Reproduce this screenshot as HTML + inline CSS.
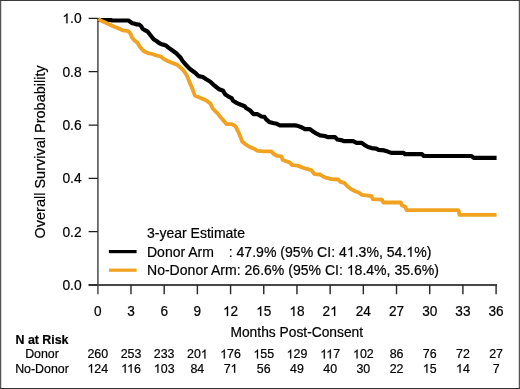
<!DOCTYPE html>
<html><head><meta charset="utf-8"><style>
html,body{margin:0;padding:0;background:#fff;}
svg{display:block;will-change:transform;}
text{font-family:"Liberation Sans",sans-serif;fill:#000;stroke:#000;stroke-width:0.2px;}
.h{fill-opacity:0;stroke-opacity:0;}
.one{fill:#000;stroke:#000;stroke-width:0.2px;vector-effect:non-scaling-stroke;}
</style></head><body>
<svg width="520" height="389" viewBox="0 0 520 389">
<rect width="520" height="389" fill="#fff"/>
<rect x="1" y="1" width="1" height="387" fill="#d6d6d6"/><rect x="518" y="1" width="1" height="387" fill="#d6d6d6"/>
<rect x="0" y="0" width="1" height="389" fill="#555"/><rect x="519" y="0" width="1" height="389" fill="#555"/>
<rect x="0" y="0" width="520" height="1" fill="#3a3a3a"/><rect x="0" y="388" width="520" height="1" fill="#333"/>
<path d="M97.90,18.40 V294.2" stroke="#686868" stroke-width="1.8" fill="none"/>
<path d="M88.6,285.00 H497.0" stroke="#464646" stroke-width="1.8" fill="none"/>
<path d="M88.6,18.40 H97.80 M88.6,71.72 H97.80 M88.6,125.04 H97.80 M88.6,178.36 H97.80 M88.6,231.68 H97.80 M88.6,285.00 H97.80" stroke="#1e1e1e" stroke-width="1.2" fill="none"/>
<path d="M130.99,285.00 V294.2 M164.18,285.00 V294.2 M197.38,285.00 V294.2 M230.57,285.00 V294.2 M263.76,285.00 V294.2 M296.95,285.00 V294.2 M330.14,285.00 V294.2 M363.34,285.00 V294.2 M396.53,285.00 V294.2 M429.72,285.00 V294.2 M462.91,285.00 V294.2 M496.10,285.00 V294.2" stroke="#262626" stroke-width="1.4" fill="none"/>
<text x="81.60" y="23.30" text-anchor="end" font-size="13.8"><tspan class="h">1</tspan>.0</text>
<text x="81.60" y="76.62" text-anchor="end" font-size="13.8">0.8</text>
<text x="81.60" y="129.94" text-anchor="end" font-size="13.8">0.6</text>
<text x="81.60" y="183.26" text-anchor="end" font-size="13.8">0.4</text>
<text x="81.60" y="236.58" text-anchor="end" font-size="13.8">0.2</text>
<text x="81.60" y="289.90" text-anchor="end" font-size="13.8">0.0</text>
<text transform="translate(97.80,316.00) scale(1.0,1.06)" text-anchor="middle" font-size="13.6">0</text>
<text transform="translate(130.99,316.00) scale(1.0,1.06)" text-anchor="middle" font-size="13.6">3</text>
<text transform="translate(164.18,316.00) scale(1.0,1.06)" text-anchor="middle" font-size="13.6">6</text>
<text transform="translate(197.38,316.00) scale(1.0,1.06)" text-anchor="middle" font-size="13.6">9</text>
<text transform="translate(230.57,316.00) scale(1.0,1.06)" text-anchor="middle" font-size="13.6"><tspan class="h">1</tspan>2</text>
<text transform="translate(263.76,316.00) scale(1.0,1.06)" text-anchor="middle" font-size="13.6"><tspan class="h">1</tspan>5</text>
<text transform="translate(296.95,316.00) scale(1.0,1.06)" text-anchor="middle" font-size="13.6"><tspan class="h">1</tspan>8</text>
<text transform="translate(330.14,316.00) scale(1.0,1.06)" text-anchor="middle" font-size="13.6">2<tspan class="h">1</tspan></text>
<text transform="translate(363.34,316.00) scale(1.0,1.06)" text-anchor="middle" font-size="13.6">24</text>
<text transform="translate(396.53,316.00) scale(1.0,1.06)" text-anchor="middle" font-size="13.6">27</text>
<text transform="translate(429.72,316.00) scale(1.0,1.06)" text-anchor="middle" font-size="13.6">30</text>
<text transform="translate(462.91,316.00) scale(1.0,1.06)" text-anchor="middle" font-size="13.6">33</text>
<text transform="translate(496.10,316.00) scale(1.0,1.06)" text-anchor="middle" font-size="13.6">36</text>
<text x="296.80" y="336.80" text-anchor="middle" font-size="13.8">Months Post-Consent</text>
<text transform="translate(45.4,151.9) rotate(-90) scale(1.0,1)" text-anchor="middle" font-size="14.5">Overall Survival Probability</text>
<polyline points="97.8,20.0 110.9,20.0 112.0,20.5 128.4,20.5 130.2,21.8 132.2,23.2 134.0,23.5 136.8,24.4 139.4,24.7 141.2,26.3 142.8,29.0 144.5,30.0 147.4,31.3 150.5,35.3 152.8,38.2 154.0,39.4 156.5,41.0 159.1,43.0 161.5,44.2 164.3,44.9 166.0,45.5 168.4,47.6 171.1,49.5 176.3,53.3 180.4,57.4 182.6,61.0 185.1,63.9 187.5,66.5 190.3,69.2 195.4,73.0 198.5,76.1 202.8,77.0 206.2,79.3 210.0,81.5 214.6,85.8 219.2,89.2 223.1,90.8 225.4,94.6 228.5,96.6 231.6,98.1 233.1,100.8 237.0,103.1 240.8,104.7 244.7,106.2 246.0,108.0 249.9,110.3 253.7,114.2 257.6,114.2 261.4,116.5 264.5,116.9 266.0,119.2 269.1,121.9 273.0,123.0 276.8,123.8 279.9,125.3 294.6,125.3 296.9,125.6 301.6,127.3 305.0,129.1 309.7,129.1 313.1,131.4 316.6,133.7 320.1,135.4 324.7,136.0 328.2,137.2 335.1,137.2 337.4,139.5 340.9,140.1 344.3,141.2 353.1,141.2 356.6,142.9 361.8,142.9 364.7,145.2 368.1,147.0 371.6,148.1 376.2,148.7 378.5,149.9 384.3,150.4 387.8,151.6 391.2,152.9 403.6,152.9 405.0,154.2 422.0,154.2 423.8,156.0 471.5,156.0 473.8,157.9 496.6,157.9" fill="none" stroke="#000" stroke-width="4.2" stroke-linejoin="round"/>
<polyline points="98.2,18.8 100.6,20.4 105.3,22.5 109.9,24.7 114.5,26.8 119.1,28.6 123.0,30.4 128.2,31.1 130.5,33.7 132.0,37.6 134.3,40.3 137.4,42.6 139.7,46.5 141.5,48.8 143.1,50.5 145.5,52.0 148.3,53.1 152.0,54.0 157.1,55.6 160.7,56.5 163.3,58.6 166.0,60.2 171.1,62.5 175.5,64.1 177.5,65.0 180.4,67.5 182.9,69.7 186.5,74.9 187.9,78.0 189.9,83.1 192.2,88.3 193.8,92.6 195.0,95.6 198.3,96.9 202.4,98.7 206.3,100.4 210.4,103.6 212.7,108.5 217.3,113.1 222.0,118.9 226.6,124.1 231.2,124.1 234.7,125.6 236.0,127.2 238.3,131.8 240.6,137.2 242.2,141.6 246.0,144.7 250.0,147.1 253.9,148.6 257.7,150.9 263.9,151.4 271.2,151.4 273.9,154.0 277.0,155.9 281.4,156.3 282.6,159.8 286.0,161.2 289.5,162.4 292.2,165.2 297.6,165.6 301.4,167.1 306.0,168.7 311.4,170.2 314.5,174.1 319.9,174.5 323.8,176.8 326.0,177.9 327.4,177.9 331.2,179.2 338.2,179.5 340.5,181.8 344.3,182.9 347.4,186.2 351.3,189.3 355.1,191.2 359.0,192.7 362.0,194.9 371.6,196.2 372.7,199.1 382.0,199.7 383.2,202.5 400.8,202.5 401.9,205.4 405.4,206.7 406.5,210.1 458.5,210.1 459.5,214.9 496.5,214.9" fill="none" stroke="#F0A220" stroke-width="3.85" stroke-linejoin="round"/>
<path d="M108.9,251.6 H136.6" stroke="#000" stroke-width="3.2"/>
<path d="M108.9,270.2 H136.6" stroke="#F0A220" stroke-width="3.2"/>
<text x="147.00" y="238.20" font-size="14">3-year Estimate</text>
<text x="147.00" y="256.70" font-size="14">Donor Arm</text>
<text transform="translate(228.70,256.70) scale(1.006,1.0)" font-size="14">: 47.9% (95% CI: 4<tspan class="h">1</tspan>.3%, 54.<tspan class="h">1</tspan>%)</text>
<text transform="translate(147.00,275.10) scale(1.0035,1.0)" font-size="14">No-Donor Arm: 26.6% (95% CI: <tspan class="h">1</tspan>8.4%, 35.6%)</text>
<text x="42.00" y="343.90" text-anchor="middle" font-size="12.4" font-weight="bold">N at Risk</text>
<text x="42.00" y="358.40" text-anchor="middle" font-size="12.4">Donor</text>
<text x="42.00" y="372.80" text-anchor="middle" font-size="12.4">No-Donor</text>
<text x="97.80" y="358.40" text-anchor="middle" font-size="12.4">260</text>
<text x="97.80" y="372.80" text-anchor="middle" font-size="12.4"><tspan class="h">1</tspan>24</text>
<text x="130.99" y="358.40" text-anchor="middle" font-size="12.4">253</text>
<text x="130.99" y="372.80" text-anchor="middle" font-size="12.4"><tspan class="h">1</tspan><tspan class="h">1</tspan>6</text>
<text x="164.18" y="358.40" text-anchor="middle" font-size="12.4">233</text>
<text x="164.18" y="372.80" text-anchor="middle" font-size="12.4"><tspan class="h">1</tspan>03</text>
<text x="197.38" y="358.40" text-anchor="middle" font-size="12.4">20<tspan class="h">1</tspan></text>
<text x="197.38" y="372.80" text-anchor="middle" font-size="12.4">84</text>
<text x="230.57" y="358.40" text-anchor="middle" font-size="12.4"><tspan class="h">1</tspan>76</text>
<text x="230.57" y="372.80" text-anchor="middle" font-size="12.4">7<tspan class="h">1</tspan></text>
<text x="263.76" y="358.40" text-anchor="middle" font-size="12.4"><tspan class="h">1</tspan>55</text>
<text x="263.76" y="372.80" text-anchor="middle" font-size="12.4">56</text>
<text x="296.95" y="358.40" text-anchor="middle" font-size="12.4"><tspan class="h">1</tspan>29</text>
<text x="296.95" y="372.80" text-anchor="middle" font-size="12.4">49</text>
<text x="330.14" y="358.40" text-anchor="middle" font-size="12.4"><tspan class="h">1</tspan><tspan class="h">1</tspan>7</text>
<text x="330.14" y="372.80" text-anchor="middle" font-size="12.4">40</text>
<text x="363.34" y="358.40" text-anchor="middle" font-size="12.4"><tspan class="h">1</tspan>02</text>
<text x="363.34" y="372.80" text-anchor="middle" font-size="12.4">30</text>
<text x="396.53" y="358.40" text-anchor="middle" font-size="12.4">86</text>
<text x="396.53" y="372.80" text-anchor="middle" font-size="12.4">22</text>
<text x="429.72" y="358.40" text-anchor="middle" font-size="12.4">76</text>
<text x="429.72" y="372.80" text-anchor="middle" font-size="12.4"><tspan class="h">1</tspan>5</text>
<text x="462.91" y="358.40" text-anchor="middle" font-size="12.4">72</text>
<text x="462.91" y="372.80" text-anchor="middle" font-size="12.4"><tspan class="h">1</tspan>4</text>
<text x="496.10" y="358.40" text-anchor="middle" font-size="12.4">27</text>
<text x="496.10" y="372.80" text-anchor="middle" font-size="12.4">7</text>
<path class="one" transform="translate(62.40,23.30) scale(0.00674,-0.00674)" d="M583,1147Q518,1085 415,1024.5Q312,964 223,931L223,1105Q374,1176 487,1277Q600,1378 647,1466L763,1466L763,0L583,0Z"/>
<path class="one" transform="translate(223.00,316.00) scale(0.00664,-0.00664)" d="M583,1147Q518,1085 415,1024.5Q312,964 223,931L223,1105Q374,1176 487,1277Q600,1378 647,1466L763,1466L763,0L583,0Z"/>
<path class="one" transform="translate(256.19,316.00) scale(0.00664,-0.00664)" d="M583,1147Q518,1085 415,1024.5Q312,964 223,931L223,1105Q374,1176 487,1277Q600,1378 647,1466L763,1466L763,0L583,0Z"/>
<path class="one" transform="translate(289.38,316.00) scale(0.00664,-0.00664)" d="M583,1147Q518,1085 415,1024.5Q312,964 223,931L223,1105Q374,1176 487,1277Q600,1378 647,1466L763,1466L763,0L583,0Z"/>
<path class="one" transform="translate(330.14,316.00) scale(0.00664,-0.00664)" d="M583,1147Q518,1085 415,1024.5Q312,964 223,931L223,1105Q374,1176 487,1277Q600,1378 647,1466L763,1466L763,0L583,0Z"/>
<path class="one" transform="translate(346.82,256.70) scale(0.00688,-0.00684)" d="M583,1147Q518,1085 415,1024.5Q312,964 223,931L223,1105Q374,1176 487,1277Q600,1378 647,1466L763,1466L763,0L583,0Z"/>
<path class="one" transform="translate(406.29,256.70) scale(0.00688,-0.00684)" d="M583,1147Q518,1085 415,1024.5Q312,964 223,931L223,1105Q374,1176 487,1277Q600,1378 647,1466L763,1466L763,0L583,0Z"/>
<path class="one" transform="translate(346.77,275.10) scale(0.00686,-0.00684)" d="M583,1147Q518,1085 415,1024.5Q312,964 223,931L223,1105Q374,1176 487,1277Q600,1378 647,1466L763,1466L763,0L583,0Z"/>
<path class="one" transform="translate(87.45,372.80) scale(0.00605,-0.00605)" d="M583,1147Q518,1085 415,1024.5Q312,964 223,931L223,1105Q374,1176 487,1277Q600,1378 647,1466L763,1466L763,0L583,0Z"/>
<path class="one" transform="translate(121.09,372.80) scale(0.00605,-0.00605)" d="M583,1147Q518,1085 415,1024.5Q312,964 223,931L223,1105Q374,1176 487,1277Q600,1378 647,1466L763,1466L763,0L583,0Z"/>
<path class="one" transform="translate(127.08,372.80) scale(0.00605,-0.00605)" d="M583,1147Q518,1085 415,1024.5Q312,964 223,931L223,1105Q374,1176 487,1277Q600,1378 647,1466L763,1466L763,0L583,0Z"/>
<path class="one" transform="translate(153.83,372.80) scale(0.00605,-0.00605)" d="M583,1147Q518,1085 415,1024.5Q312,964 223,931L223,1105Q374,1176 487,1277Q600,1378 647,1466L763,1466L763,0L583,0Z"/>
<path class="one" transform="translate(200.83,358.40) scale(0.00605,-0.00605)" d="M583,1147Q518,1085 415,1024.5Q312,964 223,931L223,1105Q374,1176 487,1277Q600,1378 647,1466L763,1466L763,0L583,0Z"/>
<path class="one" transform="translate(220.22,358.40) scale(0.00605,-0.00605)" d="M583,1147Q518,1085 415,1024.5Q312,964 223,931L223,1105Q374,1176 487,1277Q600,1378 647,1466L763,1466L763,0L583,0Z"/>
<path class="one" transform="translate(230.57,372.80) scale(0.00605,-0.00605)" d="M583,1147Q518,1085 415,1024.5Q312,964 223,931L223,1105Q374,1176 487,1277Q600,1378 647,1466L763,1466L763,0L583,0Z"/>
<path class="one" transform="translate(253.41,358.40) scale(0.00605,-0.00605)" d="M583,1147Q518,1085 415,1024.5Q312,964 223,931L223,1105Q374,1176 487,1277Q600,1378 647,1466L763,1466L763,0L583,0Z"/>
<path class="one" transform="translate(286.60,358.40) scale(0.00605,-0.00605)" d="M583,1147Q518,1085 415,1024.5Q312,964 223,931L223,1105Q374,1176 487,1277Q600,1378 647,1466L763,1466L763,0L583,0Z"/>
<path class="one" transform="translate(320.24,358.40) scale(0.00605,-0.00605)" d="M583,1147Q518,1085 415,1024.5Q312,964 223,931L223,1105Q374,1176 487,1277Q600,1378 647,1466L763,1466L763,0L583,0Z"/>
<path class="one" transform="translate(326.23,358.40) scale(0.00605,-0.00605)" d="M583,1147Q518,1085 415,1024.5Q312,964 223,931L223,1105Q374,1176 487,1277Q600,1378 647,1466L763,1466L763,0L583,0Z"/>
<path class="one" transform="translate(352.99,358.40) scale(0.00605,-0.00605)" d="M583,1147Q518,1085 415,1024.5Q312,964 223,931L223,1105Q374,1176 487,1277Q600,1378 647,1466L763,1466L763,0L583,0Z"/>
<path class="one" transform="translate(422.81,372.80) scale(0.00605,-0.00605)" d="M583,1147Q518,1085 415,1024.5Q312,964 223,931L223,1105Q374,1176 487,1277Q600,1378 647,1466L763,1466L763,0L583,0Z"/>
<path class="one" transform="translate(456.00,372.80) scale(0.00605,-0.00605)" d="M583,1147Q518,1085 415,1024.5Q312,964 223,931L223,1105Q374,1176 487,1277Q600,1378 647,1466L763,1466L763,0L583,0Z"/>
</svg>
</body></html>
